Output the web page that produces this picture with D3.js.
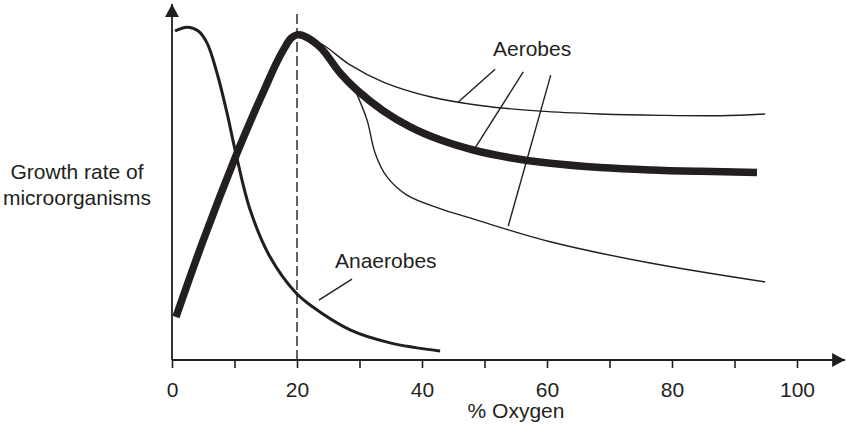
<!DOCTYPE html>
<html>
<head>
<meta charset="utf-8">
<script src="https://cdn.jsdelivr.net/npm/d3@7"></script>
<style>
html, body { margin: 0; padding: 0; background: #ffffff; }
svg { display: block; font-family: "Liberation Sans", Arial, Helvetica, sans-serif; }
</style>
</head>
<body>
<svg id="chart" width="846" height="433"></svg>
<script>
// ---- data (x = % oxygen, y = relative growth rate) ----
const xTicks = [0, 10, 20, 30, 40, 50, 60, 70, 80, 90, 100];
const xTickLabels = ["0", "", "20", "", "40", "", "60", "", "80", "", "100"];
const referenceOxygen = 20;

const aerobeMainX = [0.64, 4.96, 10.4, 12.64, 15.04, 16.64, 18.08, 19.04, 20, 21.1, 23.7, 26.9, 29.6, 33.8, 38.1, 42.9, 48.2, 54.1, 60.5, 68.5, 76.5, 84.5, 93.6];
const aerobeMainY = [12.3, 34, 59.1, 68.6, 78.3, 84.6, 89.4, 91.9, 92.9, 92.6, 89.4, 82, 77.1, 71.2, 66.6, 62.9, 60.0, 57.8, 56.2, 55.0, 54.3, 53.9, 53.6];

const aerobeHighX = [21.1, 24.2, 28.5, 33.8, 41.3, 49.3, 58.9, 68.5, 78.1, 87.7, 94.9];
const aerobeHighY = [92.6, 90, 84.3, 79.4, 75.2, 72.7, 71.1, 70.3, 69.9, 69.8, 70.3];

const aerobeLowX = [29.3, 31.2, 32.5, 34.4, 37.6, 43.0, 47.7, 52.5, 60.5, 76.5, 94.9];
const aerobeLowY = [77.1, 68.6, 59.1, 52.3, 47.1, 43.2, 40.6, 37.9, 33.8, 27.7, 22.3];

const anaerobeX = [0.48, 2.4, 4.2, 5.6, 7.2, 8.8, 10.1, 12.5, 15.7, 19.7, 22.1, 28.5, 34.9, 42.9];
const anaerobeY = [94, 95.1, 94, 90.6, 82, 70.6, 60, 42.9, 29.4, 19.4, 15.7, 8.6, 4.9, 2.6];

// leader lines [x1, y1, x2, y2] in data units
const aerobeLeaders = [[51.7, 83.1, 45.8, 73.7], [56.2, 82.3, 48.5, 60.6], [60.6, 81.4, 53.8, 38.3]];
const anaerobeLeader = [[28.8, 23.1, 23.5, 17.1]];

const labels = { aerobes: "Aerobes", anaerobes: "Anaerobes", xTitle: "% Oxygen", yTitle: ["Growth rate of", "microorganisms"] };

// ---- drawing ----
const ink = "#231f20";
const fs = 21;
const svg = d3.select("#chart");
const x = d3.scaleLinear().domain([0, 100]).range([172, 797]);
const y = d3.scaleLinear().domain([0, 100]).range([360, 10]);

const defs = svg.append("defs");
defs.append("marker").attr("id", "arrow").attr("viewBox", "0 0 13 14")
  .attr("refX", 13).attr("refY", 7).attr("markerWidth", 13).attr("markerHeight", 14)
  .attr("markerUnits", "userSpaceOnUse").attr("orient", "auto")
  .append("path").attr("d", "M0,0 L13,7 L0,14 Z").attr("fill", ink);

// x axis
const xAxis = d3.axisBottom(x).tickValues(xTicks).tickSize(8).tickSizeOuter(0)
  .tickFormat((d, i) => xTickLabels[i]);
const gx = svg.append("g").attr("transform", `translate(0,${y(0)})`).call(xAxis);
gx.select(".domain").remove();
gx.selectAll(".tick line").attr("stroke", ink).attr("stroke-width", 1.6);
gx.selectAll(".tick text").attr("fill", ink).attr("font-size", fs)
  .attr("y", 37).attr("dy", 0);

svg.append("line").attr("x1", x(0)).attr("x2", x(107.7)).attr("y1", y(0)).attr("y2", y(0))
  .attr("stroke", ink).attr("stroke-width", 1.8).attr("marker-end", "url(#arrow)");
svg.append("line").attr("x1", x(0)).attr("x2", x(0)).attr("y1", y(0)).attr("y2", y(101.7))
  .attr("stroke", ink).attr("stroke-width", 1.8).attr("marker-end", "url(#arrow)");

// dashed reference line at 20%
svg.append("line").attr("x1", x(referenceOxygen)).attr("x2", x(referenceOxygen))
  .attr("y1", y(0)).attr("y2", y(99))
  .attr("stroke", ink).attr("stroke-width", 1.4).attr("stroke-dasharray", "10,4");

const line = d3.line().x(d => x(d[0])).y(d => y(d[1])).curve(d3.curveCatmullRom.alpha(0.5));
const zip = (a, b) => a.map((v, i) => [v, b[i]]);

svg.append("path").datum(zip(aerobeHighX, aerobeHighY)).attr("d", line)
  .attr("fill", "none").attr("stroke", ink).attr("stroke-width", 1.4);
svg.append("path").datum(zip(aerobeLowX, aerobeLowY)).attr("d", line)
  .attr("fill", "none").attr("stroke", ink).attr("stroke-width", 1.4);
svg.append("path").datum(zip(anaerobeX, anaerobeY)).attr("d", line)
  .attr("fill", "none").attr("stroke", ink).attr("stroke-width", 3);
svg.append("path").datum(zip(aerobeMainX, aerobeMainY)).attr("d", line)
  .attr("fill", "none").attr("stroke", ink).attr("stroke-width", 7.5)
  .attr("stroke-linecap", "butt").attr("stroke-linejoin", "round");

// leader lines
svg.selectAll(".leader").data(aerobeLeaders.concat(anaerobeLeader)).join("line")
  .attr("class", "leader")
  .attr("x1", d => x(d[0])).attr("y1", d => y(d[1]))
  .attr("x2", d => x(d[2])).attr("y2", d => y(d[3]))
  .attr("stroke", ink).attr("stroke-width", 1.4);

// text labels
svg.append("text").attr("x", 493).attr("y", 56).attr("font-size", fs).attr("fill", ink).text(labels.aerobes);
svg.append("text").attr("x", 335).attr("y", 268).attr("font-size", fs).attr("fill", ink).text(labels.anaerobes);
svg.append("text").attr("x", 516).attr("y", 418).attr("font-size", fs).attr("fill", ink)
  .attr("text-anchor", "middle").text(labels.xTitle);
svg.append("text").attr("x", 77).attr("y", 179).attr("font-size", fs).attr("fill", ink)
  .attr("text-anchor", "middle").text(labels.yTitle[0]);
svg.append("text").attr("x", 77).attr("y", 205).attr("font-size", fs).attr("fill", ink)
  .attr("text-anchor", "middle").text(labels.yTitle[1]);
</script>
</body>
</html>
